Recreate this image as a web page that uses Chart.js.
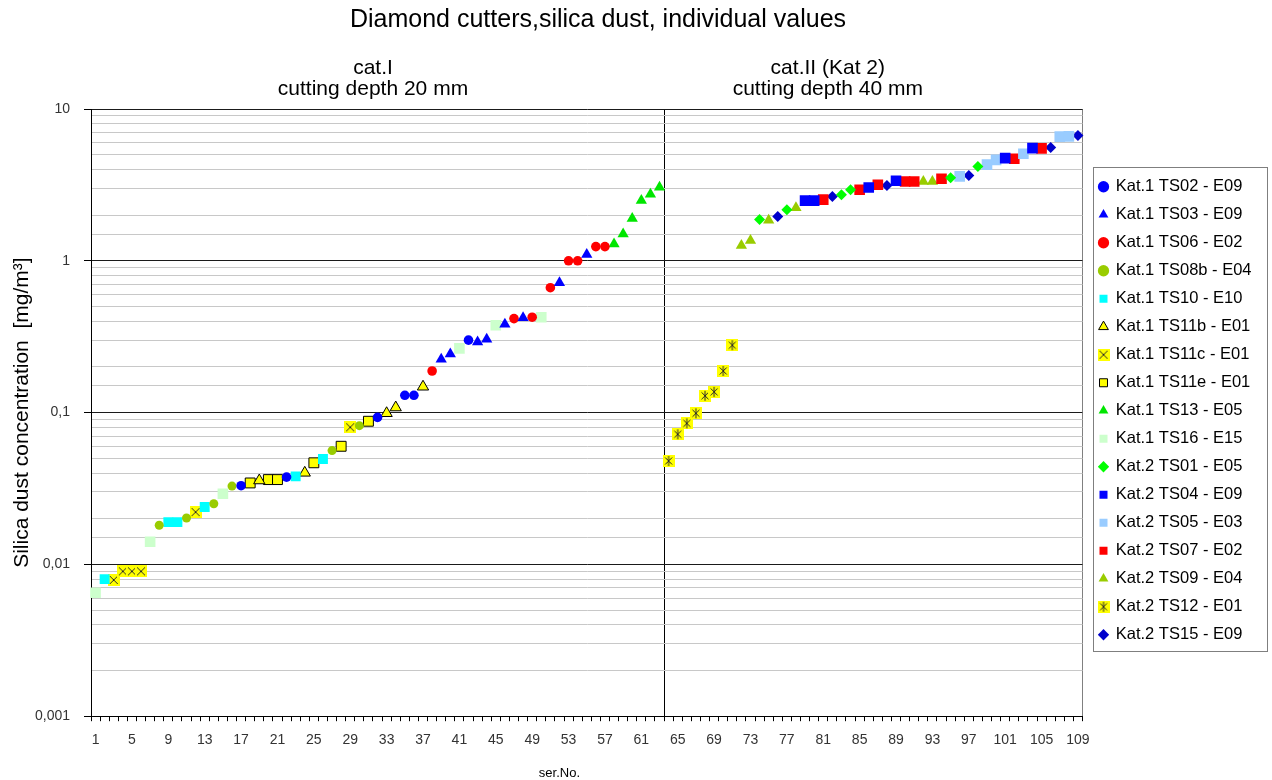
<!DOCTYPE html>
<html>
<head>
<meta charset="utf-8">
<script src="https://cdn.jsdelivr.net/npm/chart.js@4.4.0/dist/chart.umd.min.js"></script>
<style>
  html, body { margin: 0; padding: 0; background: #fff; }
  canvas { display: block; }
</style>
</head>
<body>
<canvas id="chart1" width="1272" height="780"></canvas>
<script>
// x axis: ser.No. 1..109
const serNos = [];
for (let i = 1; i <= 109; i++) serNos.push(i);

// y axis decade ticks (labels as printed)
const yTickLabels = {0.001: '0,001', 0.01: '0,01', 0.1: '0,1', 1: '1', 10: '10'};

// Kat.1 series (ser.No. / mg/m3)
const ts02Ser = [17, 22, 32, 35, 36, 42];
const ts02Val = [0.033, 0.0376, 0.093, 0.13, 0.13, 0.30];
const ts03Ser = [39, 40, 43, 44, 46, 48, 52, 55];
const ts03Val = [0.225, 0.243, 0.292, 0.304, 0.382, 0.422, 0.717, 1.10];
const ts06Ser = [38, 47, 49, 51, 53, 54, 56, 57];
const ts06Val = [0.188, 0.416, 0.425, 0.665, 1.0, 1.0, 1.24, 1.24];
const ts08bSer = [8, 11, 14, 16, 27, 30];
const ts08bVal = [0.0181, 0.0202, 0.0251, 0.0328, 0.0562, 0.082];
const ts10Ser = [2, 9, 10, 13, 23, 26];
const ts10Val = [0.0080, 0.019, 0.019, 0.0239, 0.038, 0.0495];
const ts11bSer = [19, 24, 33, 34, 37];
const ts11bVal = [0.0357, 0.0401, 0.099, 0.108, 0.148];
const ts11cSer = [3, 4, 5, 6, 12, 29];
const ts11cVal = [0.0079, 0.0090, 0.0090, 0.0090, 0.0221, 0.080];
const ts11eSer = [18, 20, 21, 25, 28, 31];
const ts11eVal = [0.0344, 0.0362, 0.0362, 0.0467, 0.060, 0.0877];
const ts13Ser = [58, 59, 60, 61, 62, 63];
const ts13Val = [1.29, 1.50, 1.90, 2.50, 2.74, 3.05];
const ts16Ser = [1, 7, 15, 41, 45, 50];
const ts16Val = [0.0065, 0.0141, 0.0292, 0.265, 0.376, 0.425];

// Kat.2 series
const k2ts01Ser = [74, 77, 83, 84, 95, 98];
const k2ts01Val = [1.87, 2.17, 2.72, 2.94, 3.52, 4.18];
const k2ts04Ser = [79, 80, 86, 89, 101, 104];
const k2ts04Val = [2.49, 2.49, 3.04, 3.37, 4.75, 5.52];
const k2ts05Ser = [96, 99, 100, 103, 107, 108];
const k2ts05Val = [3.6, 4.3, 4.62, 5.07, 6.58, 6.6];
const k2ts07Ser = [81, 85, 87, 90, 91, 94, 102, 105];
const k2ts07Val = [2.53, 2.94, 3.17, 3.33, 3.33, 3.47, 4.7, 5.5];
const k2ts09Ser = [72, 73, 75, 78, 92, 93];
const k2ts09Val = [1.26, 1.36, 1.85, 2.24, 3.33, 3.33];
const k2ts12Ser = [64, 65, 66, 67, 68, 69, 70, 71];
const k2ts12Val = [0.048, 0.072, 0.085, 0.099, 0.129, 0.137, 0.188, 0.278];
const k2ts15Ser = [76, 82, 88, 97, 106, 109];
const k2ts15Val = [1.96, 2.65, 3.13, 3.65, 5.57, 6.7];

const FONT = '"Liberation Sans", Arial, sans-serif';
Chart.defaults.font.family = FONT;

// yellow box markers with a cross / star drawn on top
function boxMarker(size, draw) {
  const c = document.createElement('canvas');
  c.width = size;
  c.height = size;
  const g = c.getContext('2d');
  g.fillStyle = '#ffff00';
  g.fillRect(0, 0, size, size);
  g.strokeStyle = '#2a2a2a';
  g.lineWidth = 1;
  g.beginPath();
  draw(g, size);
  g.stroke();
  return c;
}
const crossMark = boxMarker(12, (g, s) => {
  g.moveTo(2, 2); g.lineTo(s - 2, s - 2);
  g.moveTo(s - 2, 2); g.lineTo(2, s - 2);
});
const starMark = boxMarker(12, (g, s) => {
  g.moveTo(2.5, 2.5); g.lineTo(s - 2.5, s - 2.5);
  g.moveTo(s - 2.5, 2.5); g.lineTo(2.5, s - 2.5);
  g.moveTo(s / 2, 1); g.lineTo(s / 2, s - 1);
});

function pts(ser, val) {
  return ser.map((s, i) => ({x: s, y: val[i]}));
}
function series(label, ser, val, style, fill, border, radius, bw) {
  return {
    label: label,
    data: pts(ser, val),
    pointStyle: style,
    backgroundColor: fill,
    borderColor: border,
    pointRadius: radius,
    pointBorderWidth: bw
  };
}

const datasets = [
  series('Kat.1 TS02 - E09', ts02Ser, ts02Val, 'circle', '#0000ff', '#0000ff', 4.8, 0),
  series('Kat.1 TS03 - E09', ts03Ser, ts03Val, 'triangle', '#0000ff', '#0000ff', 6.5, 0),
  series('Kat.1 TS06 - E02', ts06Ser, ts06Val, 'circle', '#ff0000', '#ff0000', 4.8, 0),
  series('Kat.1 TS08b - E04', ts08bSer, ts08bVal, 'circle', '#99cc00', '#99cc00', 4.5, 0),
  series('Kat.1 TS10 - E10', ts10Ser, ts10Val, 'rect', '#00ffff', '#00ffff', 7, 0),
  series('Kat.1 TS11b - E01', ts11bSer, ts11bVal, 'triangle', '#ffff00', '#000000', 6.5, 1),
  series('Kat.1 TS11c - E01', ts11cSer, ts11cVal, crossMark, '#ffff00', '#2a2a2a', 6, 0),
  series('Kat.1 TS11e - E01', ts11eSer, ts11eVal, 'rect', '#ffff00', '#000000', 7, 1),
  series('Kat.1 TS13 - E05', ts13Ser, ts13Val, 'triangle', '#00e600', '#00e600', 6.5, 0),
  series('Kat.1 TS16 - E15', ts16Ser, ts16Val, 'rect', '#ccffcc', '#ccffcc', 7.5, 0),
  series('Kat.2 TS01 - E05', k2ts01Ser, k2ts01Val, 'rectRot', '#00ff00', '#00ff00', 5.5, 0),
  series('Kat.2 TS04 - E09', k2ts04Ser, k2ts04Val, 'rect', '#0000ff', '#0000ff', 7.5, 0),
  series('Kat.2 TS05 - E03', k2ts05Ser, k2ts05Val, 'rect', '#99ccff', '#99ccff', 7.5, 0),
  series('Kat.2 TS07 - E02', k2ts07Ser, k2ts07Val, 'rect', '#ff0000', '#ff0000', 7.5, 0),
  series('Kat.2 TS09 - E04', k2ts09Ser, k2ts09Val, 'triangle', '#99cc00', '#99cc00', 6.5, 0),
  series('Kat.2 TS12 - E01', k2ts12Ser, k2ts12Val, starMark, '#ffff00', '#2a2a2a', 6, 0),
  series('Kat.2 TS15 - E09', k2ts15Ser, k2ts15Val, 'rectRot', '#0000cc', '#0000cc', 5.5, 0)
];

function isDecade(v) {
  const l = Math.log10(v);
  return Math.abs(l - Math.round(l)) < 1e-6;
}
function decadeLabel(v) {
  const key = Number(v.toPrecision(3));
  return yTickLabels[key] || '';
}

const LEGEND_FONT = 16.5;
const LEGEND_PAD = 11.5;
const LEGEND_ROW = LEGEND_FONT + LEGEND_PAD;

// titles, region captions, x title and legend frame
const decorations = {
  id: 'decorations',
  afterLayout(chart) {
    // legend sits a little below the plot top and slightly right of it
    const lg = chart.legend;
    lg.top = chart.chartArea.top + 58;
    lg.left += 5.5;
    lg.right += 5.5;
  },
  afterDraw(chart) {
    const ctx = chart.ctx;
    const x = chart.scales.x;
    const area = chart.chartArea;
    ctx.save();
    ctx.fillStyle = '#000';
    ctx.textAlign = 'center';
    ctx.textBaseline = 'middle';

    ctx.font = '25px ' + FONT;
    ctx.fillText('Diamond cutters,silica dust, individual values', 598, 20);

    ctx.font = '21px ' + FONT;
    const capI = (x.getPixelForValue(30) + x.getPixelForValue(31)) / 2;
    const capII = (x.getPixelForValue(80) + x.getPixelForValue(81)) / 2;
    ctx.fillText('cat.I', capI, 68);
    ctx.fillText('cutting depth 20 mm', capI, 89);
    ctx.fillText('cat.II (Kat 2)', capII, 68);
    ctx.fillText('cutting depth 40 mm', capII, 89);

    ctx.font = '13px ' + FONT;
    ctx.fillText('ser.No.', x.getPixelForValue(51), area.bottom + 57);

    const lg = chart.legend;
    const n = chart.data.datasets.length;
    const top = Math.round(lg.top) + 0.5;
    const bottom = Math.round(lg.top + LEGEND_PAD + (n - 1) * LEGEND_ROW + 24) + 0.5;
    const left = Math.round(lg.left + 4.5) + 0.5;
    const right = chart.width - 4.5;
    ctx.strokeStyle = '#7f7f7f';
    ctx.lineWidth = 1;
    ctx.strokeRect(left, top, right - left, bottom - top);
    ctx.restore();
  }
};

const ctx1 = document.getElementById('chart1').getContext('2d');
const myChart = new Chart(ctx1, {
  type: 'scatter',
  data: { labels: serNos, datasets: datasets },
  plugins: [decorations],
  options: {
    responsive: false,
    animation: false,
    events: [],
    layout: { padding: { top: 109, right: 16, bottom: 20, left: 6 } },
    plugins: {
      title: { display: false },
      tooltip: { enabled: false },
      legend: {
        position: 'right',
        align: 'start',
        labels: {
          usePointStyle: true,
          boxHeight: 8,
          boxWidth: 8,
          padding: LEGEND_PAD,
          color: '#000',
          font: { size: LEGEND_FONT }
        }
      }
    },
    scales: {
      x: {
        type: 'category',
        labels: serNos,
        offset: true,
        border: { color: '#000' },
        grid: {
          offset: true,
          color: c => c.index === 63 ? '#000' : (c.type === 'scale' ? '#808080' : 'rgba(0,0,0,0)'),
          tickColor: '#000',
          tickLength: 5
        },
        ticks: {
          autoSkip: false,
          maxRotation: 0,
          padding: 11,
          color: '#333',
          font: { size: 14 },
          callback: (v, i) => i % 4 === 0 ? String(serNos[i]) : ''
        }
      },
      y: {
        type: 'logarithmic',
        min: 0.001,
        max: 10,
        afterFit: scale => { scale.width = 85; },
        border: { color: '#000' },
        grid: {
          color: c => c.tick && isDecade(c.tick.value) ? '#1a1a1a' : '#c8c8c8',
          tickColor: c => c.tick && isDecade(c.tick.value) ? '#000' : 'rgba(0,0,0,0)',
          tickLength: 7
        },
        ticks: {
          autoSkip: false,
          padding: 14,
          color: '#333',
          font: { size: 14 },
          callback: v => isDecade(v) ? decadeLabel(v) : ''
        },
        title: {
          display: true,
          text: 'Silica dust concentration  [mg/m³]',
          color: '#000',
          font: { size: 21 },
          padding: 4
        }
      }
    }
  }
});
</script>
</body>
</html>
